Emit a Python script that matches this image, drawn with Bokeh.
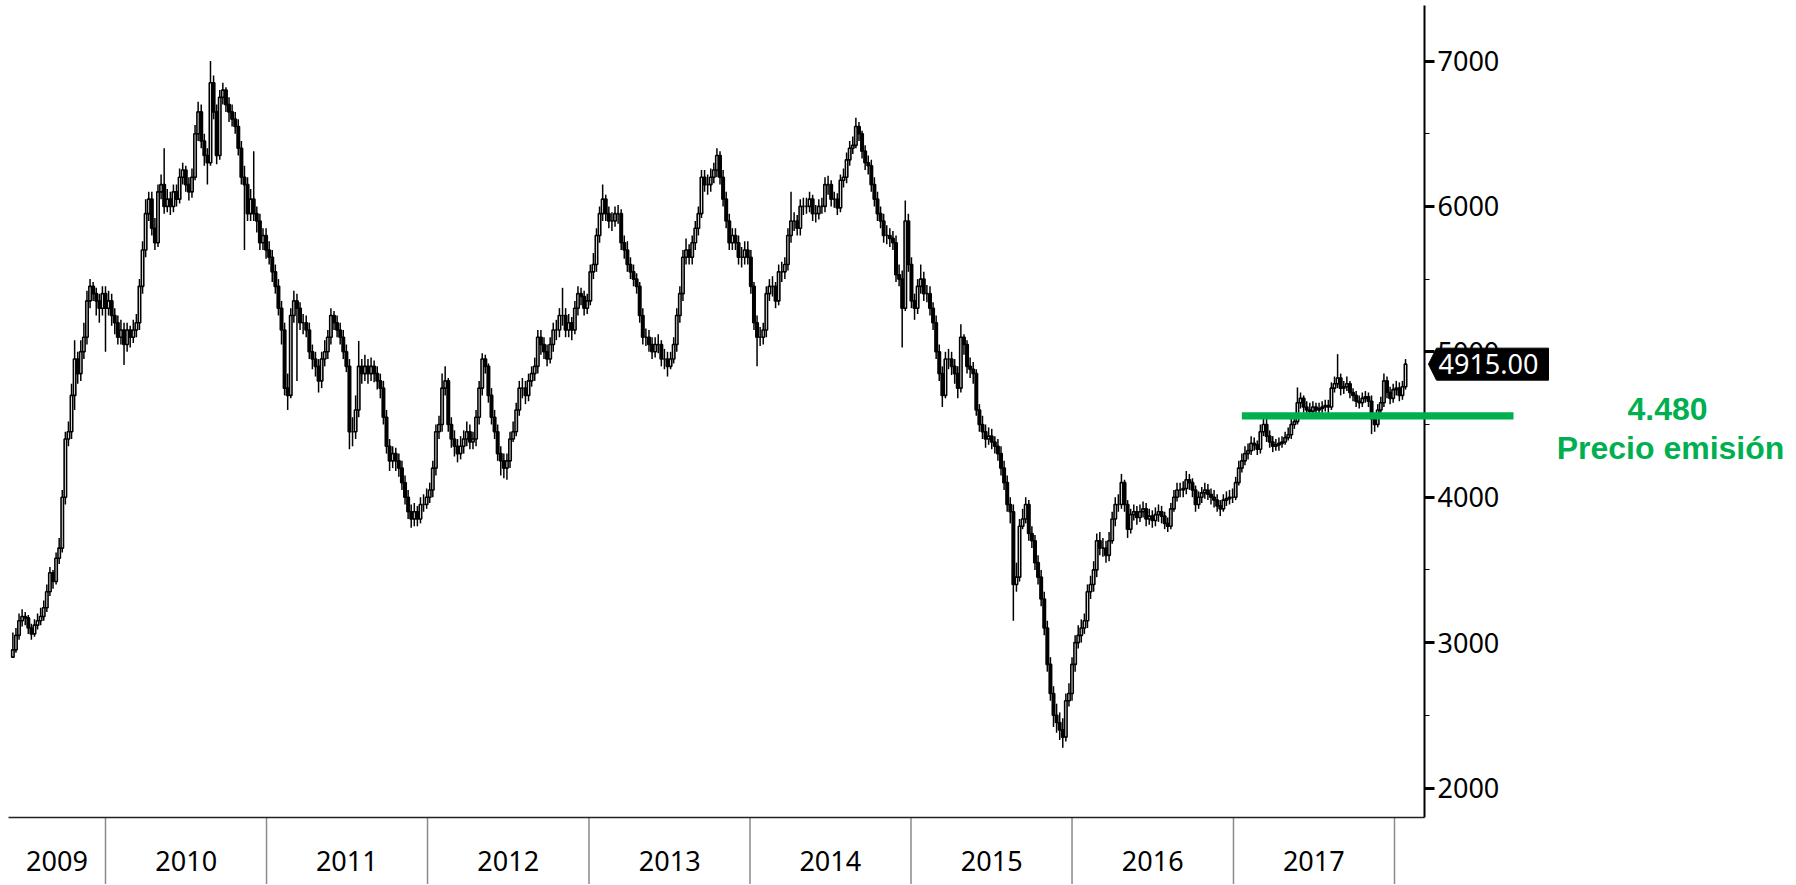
import pandas as pd
from bokeh.plotting import figure
from bokeh.models import (LinearAxis, FixedTicker, Range1d, BoxAnnotation,
                          PolyAnnotation, Label, ColumnDataSource)
from bokeh.embed import file_html
from bokeh.resources import INLINE

# ---------------- data (weekly candles) ----------------
week_start = "2009-06-05"
first_open = 2900

closes = [
    2950, 3050, 3150, 3180, 3170, 3100, 3060, 3120, 3150, 3180,
    3240, 3350, 3480, 3420, 3580, 3650, 4000, 4400, 4450, 4700,
    4950, 4850, 5000, 5100, 5350, 5450, 5400, 5350, 5300, 5400,
    5300, 5350, 5250, 5200, 5100, 5150, 5050, 5150, 5100, 5150,
    5200, 5450, 5700, 5950, 6050, 5850, 5750, 6100, 6150, 6000,
    6050, 6000, 6100, 6050, 6200, 6250, 6150, 6100, 6200, 6500,
    6650, 6450, 6350, 6300, 6850, 6650, 6350, 6750, 6800, 6700,
    6650, 6600, 6550, 6400, 6200, 6150, 5950, 6050, 5950, 5900,
    5750, 5800, 5700, 5650, 5550, 5450, 5300, 5150, 4750, 4700,
    5250, 5350, 5300, 5200, 5200, 5150, 5000, 4950, 4900, 4800,
    4950, 5000, 5100, 5250, 5200, 5150, 5100, 5000, 4900, 4450,
    4450, 4600, 4900, 4850, 4900, 4850, 4900, 4850, 4800, 4750,
    4550, 4350, 4250, 4300, 4250, 4200, 4100, 4000, 3900, 3850,
    3900, 3850, 3950, 3950, 4000, 4050, 4200, 4450, 4500, 4750,
    4800, 4500, 4400, 4350, 4300, 4350, 4400, 4450, 4380, 4400,
    4550, 4750, 4950, 4900, 4700, 4550, 4450, 4300, 4250, 4200,
    4250, 4400, 4450, 4600, 4750, 4750, 4700, 4800, 4850, 4900,
    5100, 5050, 5000, 4950, 5050, 5150, 5150, 5250, 5250, 5150,
    5200, 5150, 5300, 5400, 5380, 5300, 5350, 5550, 5600, 5800,
    5950, 6050, 5950, 5900, 5900, 5950, 5950, 5750, 5700, 5600,
    5550, 5500, 5450, 5250, 5100, 5100, 5050, 5000, 5050, 5050,
    4950, 4950, 4900, 4950, 5050, 5250, 5400, 5650, 5700, 5650,
    5750, 5850, 5950, 6200, 6150, 6150, 6200, 6250, 6350, 6200,
    6050, 5900, 5750, 5800, 5750, 5650, 5650, 5700, 5650, 5450,
    5200, 5100, 5100, 5150, 5400, 5450, 5450, 5350, 5550, 5550,
    5600, 5800, 5900, 5900, 5850, 6000, 6000, 6000, 6050, 5950,
    5950, 6000, 6000, 6150, 6150, 6050, 6050, 5990, 6180, 6200,
    6320, 6400, 6420, 6550, 6500, 6380, 6300, 6280, 6150, 6050,
    5950, 5900, 5800, 5800, 5780, 5750, 5530, 5500, 5300, 5900,
    5600, 5350, 5300, 5450, 5500, 5400, 5400, 5300, 5200, 5000,
    4850, 4700, 4950, 4950, 4900, 4850, 4750, 5100, 5050, 4900,
    4880, 4850, 4600, 4500, 4450, 4400, 4420, 4380, 4350, 4300,
    4200, 4100, 3950, 3900, 3400, 3450, 3800, 3850, 3950, 3750,
    3700, 3550, 3450, 3300, 3100, 2850, 2650, 2500, 2450, 2400,
    2350, 2600, 2650, 2850, 3000, 3050, 3100, 3150, 3350, 3400,
    3500, 3700, 3650, 3650, 3600, 3700, 3850, 3950, 3950, 4100,
    3950, 3780, 3880, 3900, 3860, 3900, 3920, 3850, 3870, 3840,
    3880, 3900, 3870, 3820, 3800, 3920, 4000, 4050, 4050, 4060,
    4120, 4100, 4050, 3950, 4000, 4030, 4050, 4020, 4000, 3980,
    3940, 3920, 3980, 3990, 4000, 4000, 4100, 4200, 4250, 4300,
    4320, 4370, 4360, 4330, 4450, 4500, 4420, 4380, 4350, 4360,
    4370, 4380, 4410, 4430, 4500, 4520, 4650, 4680, 4620, 4600,
    4590, 4620, 4600, 4610, 4620, 4630, 4620, 4750, 4780, 4820,
    4750, 4760, 4780, 4720, 4700, 4660, 4650, 4680, 4690, 4660,
    4540, 4500, 4600, 4650, 4800, 4720, 4680, 4740, 4750, 4700,
    4760, 4915,
]

highs = [
    3070, 3100, 3200, 3230, 3210, 3190, 3130, 3160, 3200, 3240,
    3290, 3400, 3520, 3500, 3620, 3720, 4050, 4450, 4520, 4780,
    5080, 5000, 5080, 5200, 5420, 5500, 5480, 5440, 5400, 5450,
    5450, 5420, 5400, 5300, 5250, 5220, 5200, 5200, 5180, 5220,
    5260, 5500, 5760, 6050, 6100, 6100, 5920, 6150, 6220, 6400,
    6120, 6100, 6150, 6150, 6260, 6300, 6280, 6200, 6260, 6560,
    6720, 6700, 6500, 6400, 7000, 6900, 6700, 6800, 6850, 6820,
    6750, 6700, 6650, 6600, 6450, 6280, 6200, 6120, 6380, 6000,
    5950, 5850, 5850, 5760, 5700, 5600, 5500, 5350, 5200, 4850,
    5300, 5420, 5400, 5340, 5260, 5250, 5200, 5050, 5000, 4950,
    5000, 5080, 5150, 5300, 5280, 5250, 5200, 5150, 5050, 4950,
    4550, 4700, 5075, 4950, 4980, 4950, 4960, 4940, 4900, 4850,
    4800, 4600, 4400, 4350, 4340, 4300, 4250, 4150, 4050, 3950,
    3960, 3940, 4000, 4020, 4060, 4100, 4250, 4500, 4560, 4850,
    4900, 4820, 4550, 4460, 4400, 4420, 4460, 4520, 4500, 4450,
    4600, 4800, 4990, 4980, 4920, 4750, 4600, 4500, 4350, 4300,
    4300, 4450, 4520, 4650, 4800, 4820, 4800, 4850, 4900, 4960,
    5150, 5150, 5100, 5050, 5100, 5200, 5220, 5300, 5440, 5300,
    5260, 5240, 5350, 5450, 5440, 5420, 5400, 5600, 5680, 5850,
    6000, 6150, 6080, 6000, 5960, 6000, 6010, 5980, 5800, 5760,
    5650, 5600, 5540, 5480, 5300, 5160, 5150, 5100, 5100, 5120,
    5080, 5020, 5000, 5000, 5100, 5300, 5450, 5700, 5780, 5740,
    5800, 5900, 6000, 6250, 6250, 6220, 6260, 6300, 6400, 6380,
    6250, 6100, 5950, 5850, 5850, 5800, 5720, 5760, 5760, 5700,
    5480, 5250, 5170, 5200, 5450, 5500, 5520, 5480, 5600, 5620,
    5650, 5850, 6100, 5960, 5940, 6050, 6060, 6060, 6100, 6080,
    6010, 6050, 6060, 6200, 6210, 6180, 6100, 6090, 6220, 6260,
    6370, 6450, 6480, 6610, 6580, 6520, 6420, 6350, 6320, 6200,
    6100, 6000, 5950, 5870, 5850, 5830, 5800, 5600, 5560, 6040,
    5950, 5650, 5400, 5500, 5600, 5550, 5460, 5450, 5340, 5250,
    5050, 4900, 5000, 5020, 5000, 4950, 4900, 5190, 5120, 5080,
    4960, 4930, 4880, 4640, 4560, 4500, 4480, 4470, 4420, 4400,
    4350, 4250, 4150, 4000, 3950, 3550, 3850, 3920, 4000, 3980,
    3800, 3740, 3600, 3500, 3350, 3150, 2900, 2700, 2580, 2520,
    2480, 2650, 2720, 2900, 3050, 3120, 3160, 3200, 3400, 3460,
    3560, 3750, 3760, 3720, 3700, 3760, 3900, 4000, 4020, 4160,
    4120, 3980, 3920, 3950, 3940, 3950, 3970, 3960, 3920, 3910,
    3930, 3950, 3940, 3900, 3860, 3960, 4050, 4100, 4100, 4110,
    4180, 4160, 4130, 4080, 4040, 4070, 4100, 4090, 4060, 4050,
    4020, 3980, 4020, 4040, 4050, 4060, 4140, 4250, 4300, 4350,
    4370, 4420, 4410, 4390, 4500, 4560, 4540, 4460, 4420, 4400,
    4410, 4420, 4450, 4480, 4540, 4560, 4755, 4720, 4700, 4660,
    4650, 4660, 4650, 4650, 4660, 4670, 4670, 4790, 4830, 4984,
    4850, 4800, 4830, 4800, 4750, 4730, 4700, 4720, 4730, 4720,
    4700, 4580, 4640, 4690, 4850, 4830, 4760, 4780, 4800, 4790,
    4800, 4950,
]

lows = [
    2900, 2930, 3020, 3110, 3120, 3060, 3020, 3040, 3090, 3120,
    3150, 3210, 3320, 3370, 3400, 3540, 3620, 3950, 4350, 4400,
    4600, 4780, 4800, 4950, 5050, 5300, 5350, 5250, 5200, 5250,
    5000, 5250, 5180, 5120, 5050, 5050, 4910, 5000, 5030, 5060,
    5100, 5150, 5400, 5650, 5900, 5800, 5700, 5720, 6050, 5950,
    5960, 5940, 5960, 6000, 6020, 6150, 6100, 6040, 6060, 6180,
    6450, 6400, 6280, 6150, 6280, 6600, 6290, 6320, 6700, 6650,
    6580, 6550, 6500, 6350, 6150, 5700, 5900, 5900, 5900, 5820,
    5700, 5700, 5640, 5600, 5480, 5400, 5250, 5050, 4700, 4600,
    4680, 5200, 4800, 5150, 5120, 5100, 4950, 4880, 4830, 4720,
    4750, 4900, 4950, 5050, 5150, 5100, 5050, 4950, 4860, 4330,
    4350, 4400, 4550, 4780, 4800, 4780, 4800, 4790, 4740, 4680,
    4500, 4300, 4180, 4200, 4180, 4140, 4050, 3950, 3850, 3790,
    3800, 3800, 3820, 3900, 3920, 3960, 4000, 4150, 4400, 4450,
    4700, 4450, 4340, 4280, 4240, 4260, 4300, 4350, 4330, 4330,
    4350, 4500, 4700, 4850, 4650, 4500, 4400, 4250, 4150, 4130,
    4120, 4200, 4380, 4420, 4560, 4680, 4640, 4660, 4760, 4800,
    4850, 4980, 4950, 4900, 4920, 5000, 5080, 5100, 5180, 5100,
    5100, 5080, 5120, 5250, 5320, 5250, 5260, 5320, 5500, 5550,
    5750, 5900, 5900, 5850, 5830, 5860, 5880, 5700, 5640, 5550,
    5500, 5450, 5400, 5200, 5050, 5040, 5000, 4950, 4960, 4990,
    4900, 4880, 4830, 4880, 4920, 5000, 5200, 5350, 5600, 5600,
    5600, 5700, 5800, 5920, 6100, 6080, 6100, 6160, 6200, 6150,
    6000, 5850, 5700, 5700, 5700, 5600, 5580, 5600, 5600, 5400,
    5150, 4900, 5040, 5050, 5100, 5350, 5380, 5300, 5320, 5480,
    5500, 5560, 5750, 5830, 5800, 5800, 5940, 5950, 5960, 5900,
    5890, 5910, 5950, 5960, 6080, 6000, 5990, 5940, 5960, 6130,
    6160, 6280, 6360, 6400, 6450, 6330, 6250, 6220, 6100, 6000,
    5900, 5850, 5750, 5740, 5720, 5700, 5480, 5450, 5030, 5280,
    5550, 5300, 5220, 5260, 5400, 5350, 5340, 5250, 5150, 4950,
    4800, 4620, 4680, 4880, 4840, 4780, 4680, 4720, 4980, 4850,
    4820, 4780, 4560, 4450, 4400, 4340, 4360, 4330, 4300, 4250,
    4150, 4050, 3900, 3820, 3150, 3350, 3420, 3780, 3820, 3700,
    3650, 3500, 3400, 3250, 3050, 2800, 2600, 2420, 2380, 2330,
    2276, 2320, 2560, 2600, 2800, 2960, 3000, 3060, 3100, 3300,
    3350, 3450, 3600, 3590, 3550, 3560, 3680, 3800, 3900, 3920,
    3900, 3720, 3750, 3840, 3810, 3830, 3860, 3800, 3810, 3790,
    3800, 3830, 3820, 3780, 3760, 3780, 3900, 3970, 4000, 4000,
    4020, 4050, 4000, 3900, 3920, 3960, 3990, 3980, 3950, 3930,
    3900, 3870, 3900, 3940, 3950, 3960, 3980, 4080, 4170, 4220,
    4260, 4290, 4320, 4290, 4300, 4420, 4380, 4340, 4310, 4320,
    4320, 4340, 4360, 4390, 4400, 4470, 4500, 4610, 4580, 4560,
    4550, 4560, 4560, 4570, 4580, 4590, 4580, 4600, 4720, 4750,
    4700, 4710, 4730, 4680, 4660, 4620, 4610, 4620, 4650, 4620,
    4434, 4450, 4480, 4580, 4620, 4680, 4640, 4650, 4700, 4660,
    4670, 4740,
]

years = [2009, 2010, 2011, 2012, 2013, 2014, 2015, 2016, 2017]
y_major = [2000, 3000, 4000, 5000, 6000, 7000]
y_minor = [2500, 3500, 4500, 5500, 6500]

last_price_text = "4915.00"
issue_price_text = "4.480"
issue_caption = "Precio emisión"
issue_level = 4560          # level at which the green line is drawn
issue_line_start = "2017-01-20"

# ---------------- derived ----------------
origin = pd.Timestamp("2009-01-01")
dates = pd.date_range(week_start, periods=len(closes), freq="7D")
days = [int((d - origin).days) for d in dates]
opens = [first_open] + closes[:-1]

# scale: data units per screen pixel, and the values at the canvas' top-left
dx = 2922 / 1289            # days per pixel (2010 -> 2018 spans 1289 px)
dy = 5000 / 727             # price per pixel (2000 -> 7000 spans 727 px)
W, H = 1790, 884
PX0 = 365 - 105 * dx        # day at canvas x = 0
PY0 = 7000 + 60.5 * dy      # price at canvas y = 0

X0 = PX0 + 8 * dx           # left end of the bottom axis
X1 = PX0 + 1424 * dx        # position of the price axis
Y0 = PY0 - 817 * dy         # position of the date axis
YT = PY0 - 5 * dy           # top end of the price axis
XR = PX0 + W * dx
YB = PY0 - H * dy

year_starts = [int((pd.Timestamp(f"{y}-01-01") - origin).days) for y in years + [2018]]
label_pos = []
for i, y in enumerate(years):
    lo = max(year_starts[i], X0)
    hi = min(year_starts[i + 1], X1)
    label_pos.append(int(round((lo + hi) / 2)))
sep_x = [d for d in year_starts if X0 < d < X1]

GREEN = "#00B050"
FONT = "Noto Sans"

p = figure(width=W, height=H,
           x_range=Range1d(PX0, XR), y_range=Range1d(YB, PY0),
           x_axis_type=None, y_axis_type=None,
           toolbar_location=None, output_backend="svg",
           min_border=0, outline_line_color=None,
           background_fill_color="white", border_fill_color="white")

# price axis, pinned at the right end of the chart box
yaxis = LinearAxis(
    fixed_location=X1, bounds=(Y0, YT),
    ticker=FixedTicker(ticks=y_major, minor_ticks=y_minor),
    axis_line_color="black", axis_line_width=2,
    major_tick_line_color="black", major_tick_line_width=3,
    major_tick_in=0, major_tick_out=10,
    minor_tick_line_color="black", minor_tick_line_width=1,
    minor_tick_in=0, minor_tick_out=5,
    major_label_standoff=3,
    major_label_text_font=FONT, major_label_text_font_size="27px",
    major_label_text_color="black")
p.add_layout(yaxis, "right")

# date axis, pinned at the bottom of the chart box; centred year labels
xaxis = LinearAxis(
    fixed_location=Y0, bounds=(X0, X1),
    ticker=FixedTicker(ticks=label_pos, minor_ticks=[]),
    major_label_overrides={pos: str(y) for pos, y in zip(label_pos, years)},
    axis_line_color="#222222", axis_line_width=1.5,
    major_tick_line_color=None, major_tick_in=0, major_tick_out=0,
    minor_tick_line_color=None, minor_tick_in=0, minor_tick_out=0,
    major_label_standoff=33,
    major_label_text_font=FONT, major_label_text_font_size="27px",
    major_label_text_color="black")
p.add_layout(xaxis, "below")

# year separators below the axis
p.segment(x0=sep_x, y0=[Y0] * len(sep_x), x1=sep_x, y1=[YB] * len(sep_x),
          line_color="#8a8a8a", line_width=1.5)

# candles
src = ColumnDataSource(dict(
    x=days,
    top=[max(o, c) for o, c in zip(opens, closes)],
    bottom=[min(o, c) for o, c in zip(opens, closes)],
    high=highs, low=lows,
    fill=["white" if c >= o else "black" for o, c in zip(opens, closes)],
))
p.segment(x0="x", y0="low", x1="x", y1="high", source=src,
          line_color="black", line_width=1.5)
p.vbar(x="x", width=5.5, top="top", bottom="bottom", source=src,
       fill_color="fill", line_color="black", line_width=1.6)

# green issue-price line
p.add_layout(BoxAnnotation(
    left=int((pd.Timestamp(issue_line_start) - origin).days),
    right=X1 + 89 * dx,
    bottom=issue_level - 3.6 * dy, top=issue_level + 3.6 * dy,
    fill_color=GREEN, fill_alpha=1.0, line_color=None, level="overlay"))

# last price tag
last = closes[-1]
p.add_layout(PolyAnnotation(
    xs=[X1 + 4 * dx, X1 + 12 * dx, X1 + 124 * dx, X1 + 124 * dx, X1 + 12 * dx],
    ys=[last, last + 16 * dy, last + 16 * dy, last - 16 * dy, last - 16 * dy],
    fill_color="black", fill_alpha=1.0, line_color="black", line_alpha=1.0,
    level="overlay"))
p.add_layout(Label(
    x=X1 + 14 * dx, y=last, text=last_price_text,
    text_align="left", text_baseline="middle",
    text_font=FONT, text_font_size="27px", text_color="white",
    level="overlay"))

# green captions
p.add_layout(Label(
    x=X1 + 243 * dx, y=issue_level + 7 * dy, text=issue_price_text,
    text_align="center", text_baseline="middle",
    text_font="Liberation Sans", text_font_style="bold",
    text_font_size="32px", text_color=GREEN))
p.add_layout(Label(
    x=X1 + 246 * dx, y=issue_level - 32 * dy, text=issue_caption,
    text_align="center", text_baseline="middle",
    text_font="Liberation Sans", text_font_style="bold",
    text_font_size="32px", text_color=GREEN))

open("out.html", "w").write(file_html(p, INLINE))
